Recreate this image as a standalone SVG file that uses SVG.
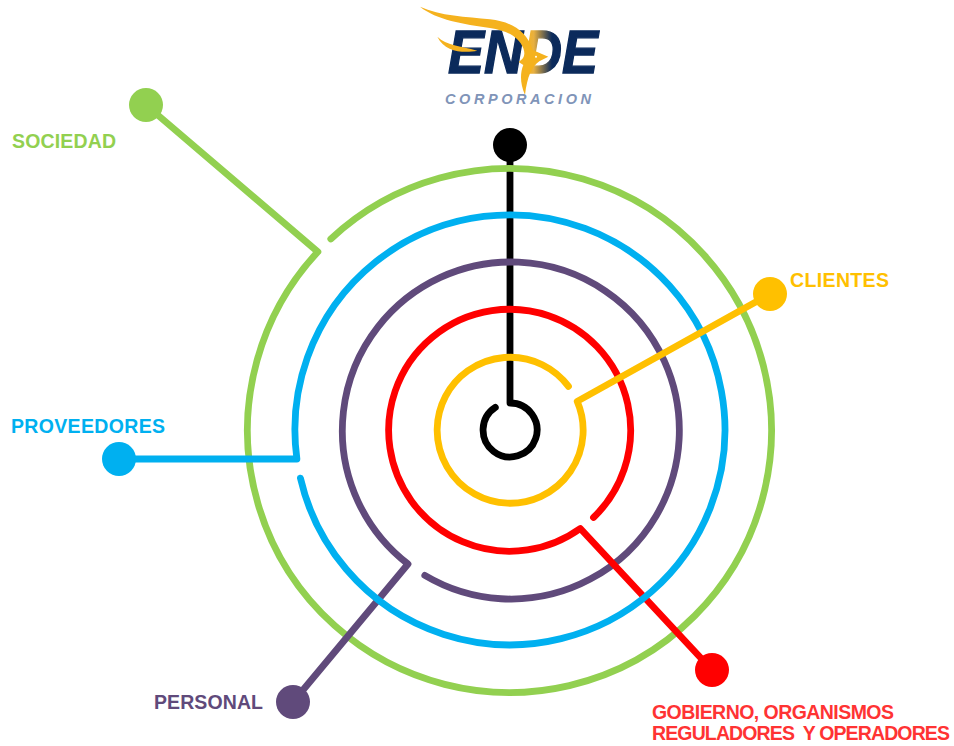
<svg xmlns="http://www.w3.org/2000/svg" width="954" height="746" viewBox="0 0 954 746">
<style>
.c{fill:none;stroke-width:6.800;stroke-linecap:round;stroke-linejoin:round}
text{font-family:"Liberation Sans",Arial,sans-serif;font-weight:bold;font-size:19.500px}
.k{stroke:#000}.g{stroke:#92D050}.b{stroke:#00B0F0}.p{stroke:#604A7B}.r{stroke:#FF0000}.y{stroke:#FFC000}
</style>
<defs>
<linearGradient id="endeFill" gradientUnits="userSpaceOnUse" x1="526" y1="0" x2="552" y2="0">
<stop offset="0" stop-color="#0B2A5B"/>
<stop offset="0.02" stop-color="#F5B21E"/>
<stop offset="0.3" stop-color="#E8B040"/>
<stop offset="1" stop-color="#0B2A5B"/>
</linearGradient>
</defs>
<rect width="954" height="746" fill="#fff"/>
<g id="logo">
<text x="448" y="73" style="font-size:61px;font-style:italic;stroke:url(#endeFill);stroke-width:1.400" fill="url(#endeFill)" textLength="150" lengthAdjust="spacingAndGlyphs">ENDE</text>
<g transform="translate(410 0) scale(.3333)" fill="#F5B21E">
<path d="M30 20C90 48 170 50 240 58C305 66 350 92 368 150L415 170L388 184C365 200 352 230 345 285C330 250 330 220 340 195L326 186C342 175 347 165 340 145C325 108 290 92 240 84C160 72 80 60 30 20Z"/>
<path d="M82 110C110 138 150 136 202 152C165 160 105 158 82 110Z"/>
<circle cx="378" cy="170" r="3" fill="#fff"/>
</g>
<text x="445" y="104" style="font-size:14.500px;font-style:italic" fill="#8094B8" textLength="146">CORPORACION</text>
</g>
<g id="connectors">
<path class="c k" d="M510 145V403A27 27 0 1 1 495.300 407.400"/>
<path class="c g" d="M146 105L317.900 251.800A262 262 0 1 0 330.800 238.900"/>
<path class="c p" d="M293 702L408 564A168.500 168.500 0 1 1 424.800 575.400"/>
<path class="c r" d="M712 670L580.300 528.500A121 121 0 1 1 593.500 517.500"/>
<path class="c b" d="M119 459H296.900A215 215 0 1 1 300.400 478.100"/>
<path class="c y" d="M770 294L577.200 401.400A73 73 0 1 1 568.500 386.400"/>
</g>
<g id="node-logo-dot"><circle cx="510" cy="145" r="17" fill="#000"/></g>
<g id="node-sociedad"><circle cx="146" cy="105" r="17" fill="#92D050"/><text x="12" y="148" fill="#92D050" textLength="104">SOCIEDAD</text></g>
<g id="node-clientes"><circle cx="770" cy="294" r="17" fill="#FFC000"/><text x="790" y="286.500" fill="#FFC000" textLength="99">CLIENTES</text></g>
<g id="node-proveedores"><circle cx="119" cy="459" r="17" fill="#00B0F0"/><text x="11" y="432.500" fill="#00B0F0" textLength="154">PROVEEDORES</text></g>
<g id="node-personal"><circle cx="293" cy="702" r="17" fill="#604A7B"/><text x="154" y="708.500" fill="#604A7B" textLength="109">PERSONAL</text></g>
<g id="node-gobierno"><circle cx="712" cy="670" r="17" fill="#FF0000"/><text x="652" y="719" fill="#FF3333" textLength="242">GOBIERNO, ORGANISMOS</text><text x="652" y="740" fill="#FF3333" textLength="298" xml:space="preserve">REGULADORES  Y OPERADORES</text></g>
</svg>
